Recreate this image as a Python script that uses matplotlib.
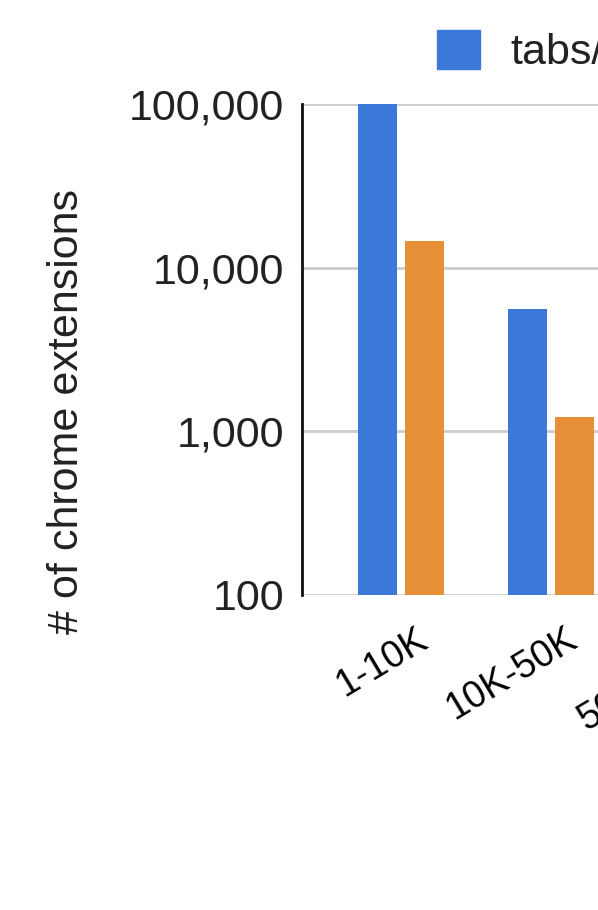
import numpy as np
import matplotlib
matplotlib.use("Agg")
import matplotlib.pyplot as plt
from matplotlib.ticker import FixedLocator, FuncFormatter, NullLocator
from matplotlib.transforms import ScaledTranslation
from matplotlib.patches import Patch

plt.rcParams.update({
    "font.family": ["Liberation Sans", "DejaVu Sans"],
    "text.color": "#222222",
})

# data (only the left part of the chart is visible)
categories = ["1-10K", "10K-50K", "50K-100K"]
tabs_vals = [100000, 5600]
other_vals = [14500, 1230]
series_names = ["tabs/activeTab", "other permissions"]
y_ticks = [100, 1000, 10000, 100000]

BLUE = "#3c78d8"
ORANGE = "#e69138"

W, H = 598, 910
fig = plt.figure(figsize=(W / 100, H / 100), dpi=100)
# axes runs past the right edge of the picture, as in the cropped original
ax = fig.add_axes([302 / W, 1 - 595 / H, 498 / W, (595 - 104) / H])

x = np.arange(len(tabs_vals))
bw = 0.26
ax.bar(x - 0.155, tabs_vals, width=bw, color=BLUE, zorder=3)
ax.bar(x + 0.155, other_vals, width=bw, color=ORANGE, zorder=3)

ax.set_yscale("log")
ax.set_ylim(100, 100000)
ax.set_xlim(-0.66, 2.66)
ax.yaxis.set_major_locator(FixedLocator(y_ticks))
ax.yaxis.set_minor_locator(NullLocator())
ax.yaxis.set_major_formatter(FuncFormatter(lambda v, p: f"{int(v):,}"))
ax.tick_params(axis="y", length=0, pad=13, labelsize=31, labelcolor="#222222")
ax.grid(axis="y", color="#cccccc", linewidth=2, zorder=0)

for s in ["top", "right", "bottom"]:
    ax.spines[s].set_visible(False)
ax.spines["left"].set_color("#111111")
ax.spines["left"].set_linewidth(2)
ax.spines["left"].set_zorder(4)

ax.set_xticks(np.arange(len(categories)))
ax.set_xticklabels(categories, rotation=31, ha="right", va="top",
                   rotation_mode="anchor", fontsize=27)
ax.tick_params(axis="x", length=0, pad=0)
off = ScaledTranslation(14 / 100, -26 / 100, fig.dpi_scale_trans)
for lab in ax.get_xticklabels():
    lab.set_transform(lab.get_transform() + off)

fig.text(67 / W, 1 - 412 / H, "# of chrome extensions", rotation=90,
         ha="center", va="center", fontsize=31)

handles = [Patch(color=BLUE), Patch(color=ORANGE)]
fig.legend(handles, series_names, loc="upper left", ncol=2,
           bbox_to_anchor=(437 / W, 1 - 30 / H), frameon=False, fontsize=31,
           handlelength=1.0, handleheight=1.0, handletextpad=0.7,
           borderpad=0, borderaxespad=0, columnspacing=1.5)

fig.savefig("out.png", dpi=100)
